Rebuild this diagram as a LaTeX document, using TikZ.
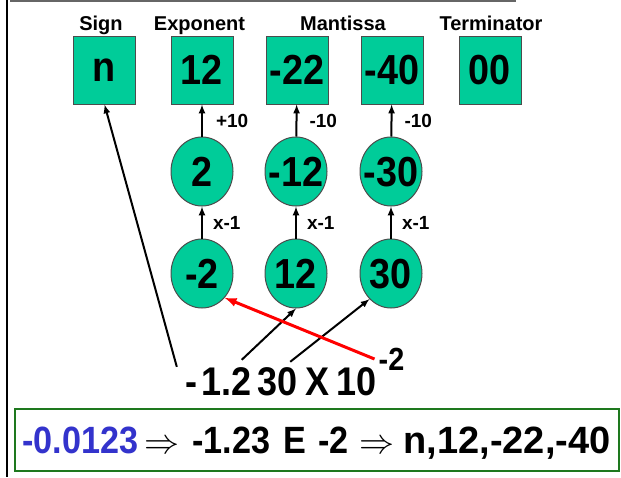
\documentclass[tikz,border=0pt]{standalone}
\usepackage{fix-cm}
\usepackage{fontspec}
\setmainfont{Liberation Sans}
\newfontfamily\narrowsans[FakeStretch=0.9]{Liberation Sans}
\usetikzlibrary{shapes.geometric}
\definecolor{fieldgreen}{RGB}{0,204,153}
\definecolor{framegreen}{RGB}{30,120,30}
\definecolor{valblue}{RGB}{51,51,204}
% text that does not widen its shape
\newcommand{\pairtext}[1]{\makebox[0pt]{\raisebox{-.36em}[0pt][0pt]{#1}}}
\tikzset{
  field/.style={draw=black!70, line width=1pt, fill=fieldgreen, minimum width=62pt,
    minimum height=68pt, inner sep=0pt, font=\narrowsans\bfseries\fontsize{42}{42}\selectfont},
  digit/.style={ellipse, draw=black!70, line width=1pt, fill=fieldgreen, minimum width=62pt,
    minimum height=69pt, inner sep=0pt, font=\narrowsans\bfseries\fontsize{42}{42}\selectfont},
  hdr/.style={anchor=base, inner sep=0pt, font=\bfseries\fontsize{20}{20}\selectfont},
  lbl/.style={inner sep=0pt, font=\bfseries\fontsize{19}{19}\selectfont},
  big/.style={anchor=base, inner sep=0pt, text height=28pt, text depth=0pt,
    font=\narrowsans\bfseries\fontsize{40}{40}\selectfont},
  summ/.style={anchor=base, inner sep=0pt, font=\narrowsans\bfseries\fontsize{38}{38}\selectfont},
  dep/.style={line width=2pt, -latex},
}
\begin{document}
\begin{tikzpicture}[x=1pt,y=-1pt]
\useasboundingbox (0,0) rectangle (621,477);
% Frame Lines
\draw[line width=2pt] (7,0) -- (7,477);
\draw[line width=1.5pt, black!60] (10,1) -- (516,1);
% Field Headers
\node[hdr] (hsign) at (101,30) {Sign};
\node[hdr] (hexp) at (199.5,30) {Exponent};
\node[hdr] (hman) at (343,30) {Mantissa};
\node[hdr] (hterm) at (491,30) {Terminator};
% Encoded Fields
\node[field] (fn) at (104.5,70) {n};
\node[field] (f12) at (202,70) {12};
\node[field] (fm22) at (297,70) {-22};
\node[field] (fm40) at (392,70) {-40};
\node[field] (f00) at (490,70) {00};
% Pairs after x-1
\node[digit] (c2) at (202,171.5) {\pairtext{2}};
\node[digit] (cm12) at (296,171.5) {\pairtext{-12}};
\node[digit] (cm30) at (391,171.5) {\pairtext{-30}};
% Pairs of the Number
\node[digit] (cm2) at (202,273.5) {\pairtext{-2}};
\node[digit] (c12) at (296,273.5) {\pairtext{12}};
\node[digit] (c30) at (391,273.5) {\pairtext{30}};
% Scientific Notation
\node[big] (sgn) at (191,395) {-};
\node[big] (m1) at (226.5,395) {1.2};
\node[big] (m2) at (278,395) {30};
\node[big] (times) at (317.5,395) {X};
\node[big] (ten) at (357,395) {10};
\node[big, text height=22pt, font=\narrowsans\bfseries\fontsize{32}{32}\selectfont] (ex) at (391.5,370) {-2};
%
% Step Edges:
\draw[dep] (cm2) -- node[lbl, right=10pt] {x-1} (c2);
\draw[dep] (c12) -- node[lbl, right=10pt] {x-1} (cm12);
\draw[dep] (c30) -- node[lbl, right=10pt] {x-1} (cm30);
\draw[dep] (c2) -- node[lbl, right=13pt] {+10} (f12);
\draw[dep] (cm12) -- node[lbl, right=12pt] {-10} (fm22);
\draw[dep] (cm30) -- node[lbl, right=12pt] {-10} (fm40);
% Edges from the Number:
\draw[dep] ([xshift=-8pt]sgn.north west) -- (fn.south);
\draw[dep] ([xshift=-10pt,yshift=7pt]m1.north east) -- (c12.south);
\draw[dep] ([xshift=-8pt,yshift=5pt]m2.north east) -- (c30.230);
\draw[line width=3pt, red, -latex] ([xshift=-4pt]ex.west) -- (cm2.313);
% Summary
\draw[line width=2pt, framegreen] (15,409) rectangle (619,471);
\node[summ, valblue] (val) at (80.5,453) {-0.0123};
\node[summ] (imp1) at (162,453) {\fontsize{35}{35}\selectfont$\Rightarrow$};
\node[summ] (sci) at (270.5,453) {-1.23\hspace{4pt} E\hspace{2pt} -2};
\node[summ] (imp2) at (377,453) {\fontsize{35}{35}\selectfont$\Rightarrow$};
\node[summ, font=\bfseries\fontsize{38}{38}\selectfont] (enc) at (507,453) {n,12,-22,-40};
\end{tikzpicture}
\end{document}
